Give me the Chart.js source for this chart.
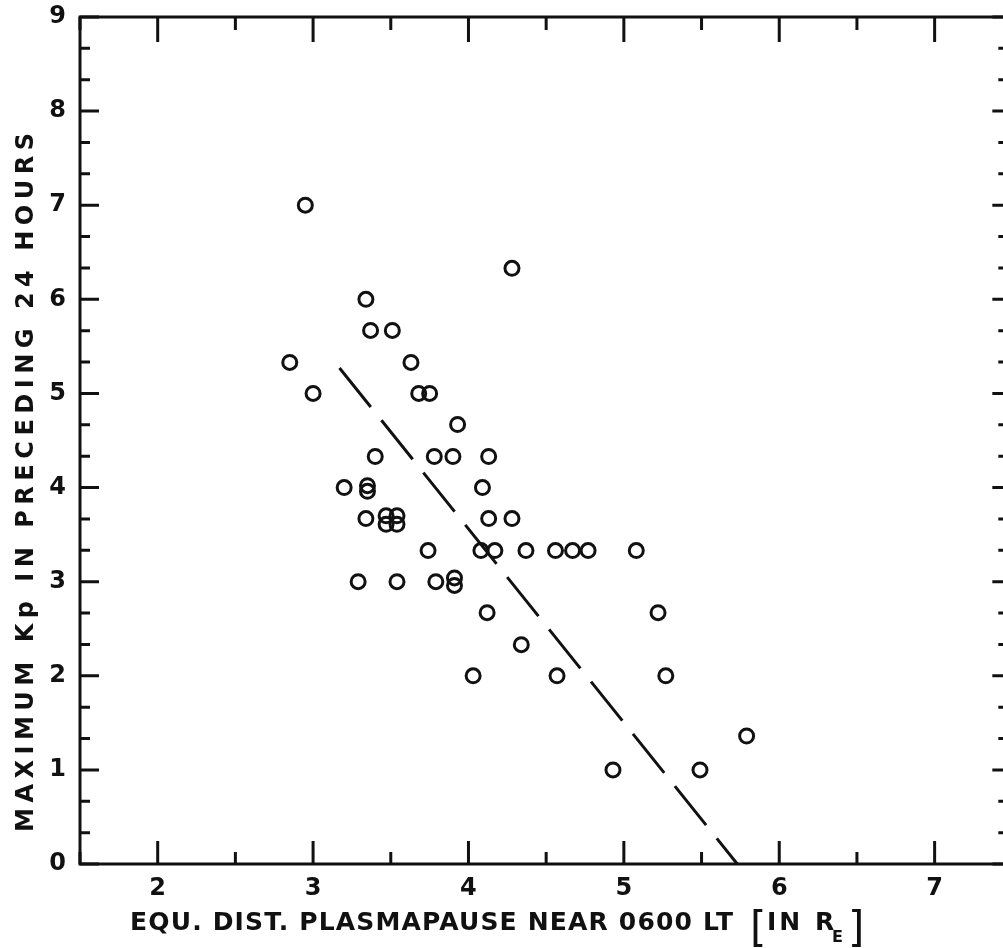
<!DOCTYPE html>
<html>
<head>
<meta charset="utf-8">
<script src="https://cdn.jsdelivr.net/npm/chart.js@4/dist/chart.umd.min.js"></script>
<style>
  html, body { margin: 0; padding: 0; background: #fff; overflow: hidden; }
  canvas { display: block; }
</style>
</head>
<body>
<canvas id="kpChart" width="1003" height="948"></canvas>
<script>
// ---- data ----
// equatorial plasmapause distance (R_E) for each event
const distRe = [
  2.95, 2.85, 3.00, 4.28, 3.34, 3.37, 3.51, 3.63, 3.68, 3.75,
  3.93, 3.40, 3.78, 3.90, 4.13, 3.20, 3.35, 3.35, 4.09, 3.34,
  3.47, 3.54, 3.47, 3.54, 4.13, 4.28, 3.74, 4.08, 4.17, 4.37,
  4.56, 4.67, 4.77, 5.08, 3.29, 3.54, 3.79, 3.91, 3.91, 4.12,
  4.34, 4.03, 4.57, 5.22, 5.27, 5.79, 4.93, 5.49
];
// max Kp in the preceding 24 h
const maxKp = [
  7.00, 5.33, 5.00, 6.33, 6.00, 5.67, 5.67, 5.33, 5.00, 5.00,
  4.67, 4.33, 4.33, 4.33, 4.33, 4.00, 4.02, 3.96, 4.00, 3.67,
  3.70, 3.70, 3.61, 3.61, 3.67, 3.67, 3.33, 3.33, 3.33, 3.33,
  3.33, 3.33, 3.33, 3.33, 3.00, 3.00, 3.00, 3.04, 2.96, 2.67,
  2.33, 2.00, 2.00, 2.67, 2.00, 1.36, 1.00, 1.00
];
// dashed regression line (end points)
const fitX = [3.17, 5.73];
const fitY = [5.27, 0.0];

const xMajor = [2, 3, 4, 5, 6, 7];
const yMajor = [0, 1, 2, 3, 4, 5, 6, 7, 8, 9];

const INK = "#111";
const FONT = "'DejaVu Sans', sans-serif";

// ---- axes drawn like the paper figure (inward ticks, frame, titles) ----
// the right-hand axis of the original is cut off by the page edge
const paperAxes = {
  id: "paperAxes",
  afterDraw(chart) {
    const { ctx, chartArea: a, scales: { x, y } } = chart;
    ctx.save();
    ctx.strokeStyle = INK;
    ctx.fillStyle = INK;
    ctx.lineWidth = 3;
    ctx.beginPath();
    ctx.moveTo(a.right, a.top); ctx.lineTo(a.left, a.top);
    ctx.lineTo(a.left, a.bottom); ctx.lineTo(a.right, a.bottom);
    ctx.stroke();

    // x ticks: integers long, halves short, top and bottom
    for (let v = 1.5; v <= 7.5; v += 0.5) {
      if (v > x.max) break;
      const px = x.getPixelForValue(v);
      const major = Number.isInteger(v);
      ctx.beginPath();
      ctx.moveTo(px, a.top); ctx.lineTo(px, a.top + (major ? 25 : 13));
      ctx.moveTo(px, a.bottom); ctx.lineTo(px, a.bottom - (major ? 23 : 12));
      ctx.stroke();
    }
    // y ticks every third of a Kp unit (left side full, right side cut)
    const xr = x.getPixelForValue(7.5);
    for (let i = 0; i <= 27; i++) {
      const py = y.getPixelForValue(i / 3);
      const major = i % 3 === 0;
      ctx.beginPath();
      ctx.moveTo(a.left, py); ctx.lineTo(a.left + (major ? 19 : 10), py);
      ctx.moveTo(xr, py); ctx.lineTo(xr - (major ? 20 : 14), py);
      ctx.stroke();
    }

    // y title, rotated, spread over a fixed length
    const yTitle = "MAXIMUM Kp IN PRECEDING 24 HOURS";
    ctx.font = "bold 24px " + FONT;
    let w0 = ctx.measureText(yTitle).width;
    let sp = (699 - w0) / (yTitle.length - 1);
    ctx.save();
    ctx.translate(33, 832);
    ctx.rotate(-Math.PI / 2);
    ctx.letterSpacing = sp + "px";
    ctx.textAlign = "left";
    ctx.textBaseline = "alphabetic";
    ctx.fillText(yTitle, 0, 0);
    ctx.restore();

    // x title
    const xTitle = "EQU. DIST. PLASMAPAUSE NEAR 0600 LT";
    ctx.font = "bold 25px " + FONT;
    w0 = ctx.measureText(xTitle).width;
    sp = (603 - w0) / (xTitle.length - 1);
    ctx.letterSpacing = sp + "px";
    ctx.textAlign = "left";
    ctx.fillText(xTitle, 130, 930);
    ctx.letterSpacing = "0px";
    ctx.font = "42px " + FONT;
    ctx.fillText("[", 750, 942);
    ctx.fillText("]", 848, 942);
    ctx.font = "bold 25px " + FONT;
    ctx.letterSpacing = "3px";
    ctx.fillText("IN R", 767, 930);
    ctx.letterSpacing = "0px";
    ctx.font = "bold 16px " + FONT;
    ctx.fillText("E", 832, 942);
    ctx.restore();
  }
};

const points = distRe.map((d, i) => ({ x: d, y: maxKp[i] }));
const fitLine = fitX.map((d, i) => ({ x: d, y: fitY[i] }));

new Chart(document.getElementById("kpChart").getContext("2d"), {
  type: "scatter",
  data: {
    datasets: [
      {
        data: points,
        pointStyle: "circle",
        pointRadius: 7,
        pointBorderWidth: 3,
        pointBorderColor: INK,
        pointBackgroundColor: "rgba(0,0,0,0)",
        showLine: false
      },
      {
        type: "line",
        data: fitLine,
        borderColor: INK,
        borderWidth: 3,
        borderDash: [50, 17],
        pointRadius: 0,
        fill: false
      }
    ]
  },
  options: {
    responsive: false,
    animation: false,
    layout: { autoPadding: false, padding: { top: 17, right: 0, left: 0, bottom: 0 } },
    plugins: { legend: { display: false }, tooltip: { enabled: false } },
    scales: {
      x: {
        type: "linear",
        min: 1.5,
        max: 7.44,
        afterFit(s) { s.height = 84; s.paddingLeft = 0; s.paddingRight = 0; },
        afterBuildTicks(s) { s.ticks = xMajor.map(v => ({ value: v })); },
        grid: { display: false, drawTicks: false },
        border: { display: false },
        ticks: { padding: 10, color: INK, font: { family: FONT, size: 24, weight: "bold" } }
      },
      y: {
        min: 0,
        max: 9,
        afterFit(s) { s.width = 80; s.paddingTop = 0; s.paddingBottom = 0; },
        afterBuildTicks(s) { s.ticks = yMajor.map(v => ({ value: v })); },
        grid: { display: false, drawTicks: false },
        border: { display: false },
        ticks: { padding: 14, color: INK, font: { family: FONT, size: 24, weight: "bold" } }
      }
    }
  },
  plugins: [paperAxes]
});
</script>
</body>
</html>
